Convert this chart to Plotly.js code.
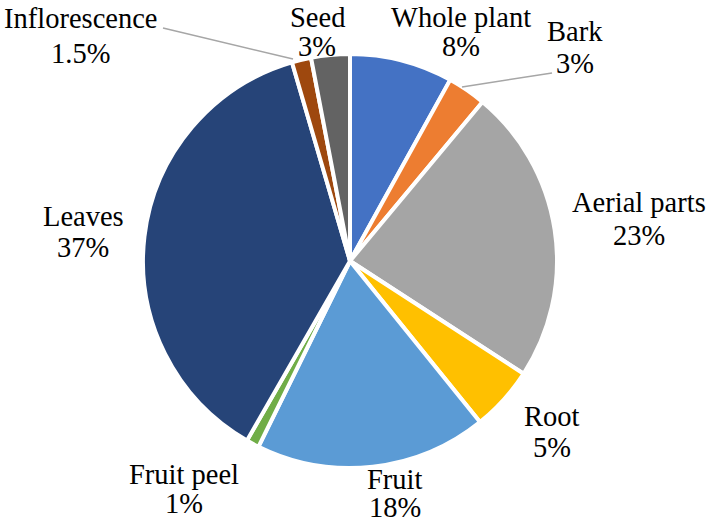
<!DOCTYPE html>
<html><head><meta charset="utf-8">
<script src="https://cdn.plot.ly/plotly-3.0.1.min.js"></script>
<style>html,body{margin:0;padding:0;background:#fff}</style>
</head><body>
<div id="chart" style="width:709px;height:522px"></div>
<script>
const categories = ["Whole plant","Bark","Aerial parts","Root","Fruit","Fruit peel","Leaves","Inflorescence","Seed"];
const values = [8,3,23,5,18,1,37,1.5,3];
const pctLabels = ["8%","3%","23%","5%","18%","1%","37%","1.5%","3%"];
const colors = ["#4472C4","#ED7D31","#A5A5A5","#FFC000","#5B9BD5","#70AD47","#264478","#9E480E","#636363"];

const W = 709, H = 522;
// label placement in pixels (layout only): [x center, name line y, percent line y]
const labelPos = [[461,17,47],[575,31.5,63.5],[639,202.5,235.5],[552,416.5,447.5],[395,479,507],[184,474.5,503.5],[83,216.5,247.5],[80,18.5,53.5],[317,17,47]];
const px = x => x / W, py = y => 1 - y / H;
const FONT = "Liberation Serif, Times New Roman, serif";

const annotations = [];
categories.forEach((c,i) => {
  [[c, labelPos[i][1]], [pctLabels[i], labelPos[i][2]]].forEach(([t, yy]) => {
    annotations.push({
      text: t, x: px(labelPos[i][0]), y: py(yy), xref:"paper", yref:"paper",
      xanchor:"center", yanchor:"middle", showarrow:false,
      font:{family:FONT, size:28.5, color:"#000000"}
    });
  });
});

const cx = 350, cy = 261, r = 207;
const shapes = [
  {type:"line", xref:"paper", yref:"paper", x0:px(163), y0:py(28), x1:px(293), y1:py(59), line:{color:"#a6a6a6", width:1.5}},
  {type:"line", xref:"paper", yref:"paper", x0:px(462), y0:py(87), x1:px(552), y1:py(73), line:{color:"#a6a6a6", width:1.5}}
];

Plotly.newPlot("chart", [{
  type:"pie", labels:categories, values:values, sort:false, direction:"clockwise", rotation:0,
  textinfo:"none", hoverinfo:"label+percent",
  marker:{colors:colors, line:{color:"#ffffff", width:4}},
  domain:{x:[px(cx-r), px(cx+r)], y:[py(cy+r), py(cy-r)]}
}], {
  width:W, height:H, margin:{l:0,r:0,t:0,b:0}, showlegend:false,
  font:{family:FONT, size:28.5, color:"#000000"},
  paper_bgcolor:"#fff", annotations:annotations, shapes:shapes
}, {displayModeBar:false, staticPlot:true});
</script>
</body></html>
